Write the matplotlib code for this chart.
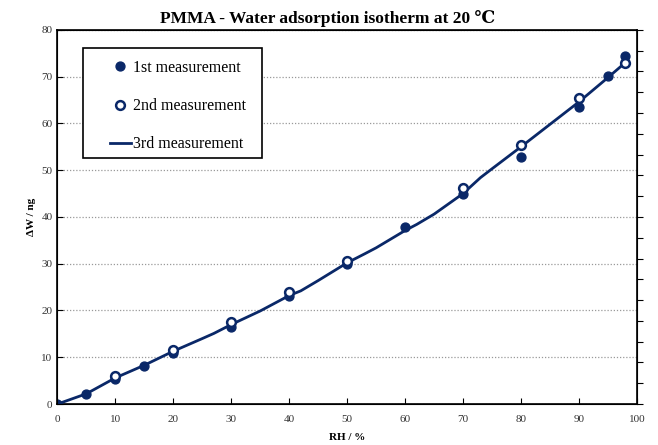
import matplotlib
matplotlib.use("Agg")
import matplotlib.pyplot as plt
from matplotlib.patches import Rectangle

plt.rcParams['font.family'] = ['Liberation Serif', 'DejaVu Serif']

# measurement data (RH in %, mass change in ng)
rh_1st = [0, 5, 10, 15, 20, 30, 40, 50, 60, 70, 80, 90, 95, 98]
dw_1st = [0, 2.1, 5.3, 8.2, 10.9, 16.4, 23.0, 29.9, 37.9, 45.0, 52.8, 63.4, 70.1, 74.3]
rh_2nd = [10, 20, 30, 40, 50, 70, 80, 90, 98]
dw_2nd = [5.9, 11.6, 17.5, 24.0, 30.6, 46.2, 55.4, 65.4, 73.0]

rh_3rd = [0, 5, 10, 15, 20, 25, 27, 30, 35, 40, 42, 45, 50, 53, 55, 60, 62, 65, 70, 73, 75, 80, 85, 90, 95, 98]
dw_3rd = [0, 2.2, 5.6, 8.3, 11.3, 14.0, 15.1, 17.0, 19.9, 23.2, 24.2, 26.4, 30.2, 32.1, 33.4, 37.1, 38.4, 40.6, 45.0, 48.4, 50.3, 55.0, 59.8, 64.6, 69.8, 73.0]

navy = '#0a2868'

fig = plt.figure(figsize=(6.58, 4.45), dpi=100)
ax = fig.add_axes([0.0872, 0.092, 0.8808, 0.841])

ax.plot(rh_3rd, dw_3rd, color=navy, lw=2.0, label='3rd measurement', zorder=3)
ax.plot(rh_1st, dw_1st, 'o', color=navy, ms=6.4, label='1st measurement', zorder=4)
ax.plot(rh_2nd, dw_2nd, 'o', mfc='white', mec=navy, mew=1.8, ms=6.3, label='2nd measurement', zorder=5)

ax.set_xlim(0, 100)
ax.set_ylim(0, 80)
ax.set_xticks(range(0, 101, 10))
ax.set_yticks(range(0, 81, 10))
ax.yaxis.grid(True, linestyle=(0, (1, 1.5)), color='#999999', lw=0.9)
ax.tick_params(direction='in', length=4, labelsize=8, color='black', labelcolor='#333333')
ax.tick_params(axis='x', pad=8)
for s in ax.spines.values():
    s.set_linewidth(1.2)

ax2 = ax.twinx()
ax2.set_ylim(0, 90)
ax2.set_yticks(range(0, 91, 5))
ax2.set_yticklabels([])
ax2.tick_params(direction='out', length=4)

ax.set_title('PMMA - Water adsorption isotherm at 20 \u2103', fontsize=12.5,
             fontweight='bold', pad=5, x=0.466)
ax.set_xlabel('RH / %', fontsize=8, fontweight='bold', labelpad=6)
ax.set_ylabel('\u0394W / ng', fontsize=8, fontweight='bold', labelpad=4)

# legend box drawn separately so the entries can sit inside it like the original
ax.add_patch(Rectangle((0.044, 0.658), 0.309, 0.294, transform=ax.transAxes,
                       facecolor='white', edgecolor='black', lw=1.2, zorder=6))
h, l = ax.get_legend_handles_labels()
order = [1, 2, 0]
leg = ax.legend([h[i] for i in order], [l[i] for i in order],
                loc='upper left', bbox_to_anchor=(0.0908, 0.92), borderaxespad=0,
                frameon=False, fontsize=11.5, borderpad=0,
                labelspacing=1.4, handlelength=1.3, handletextpad=0.15)
leg.set_zorder(7)

fig.savefig('out.png', dpi=100)
